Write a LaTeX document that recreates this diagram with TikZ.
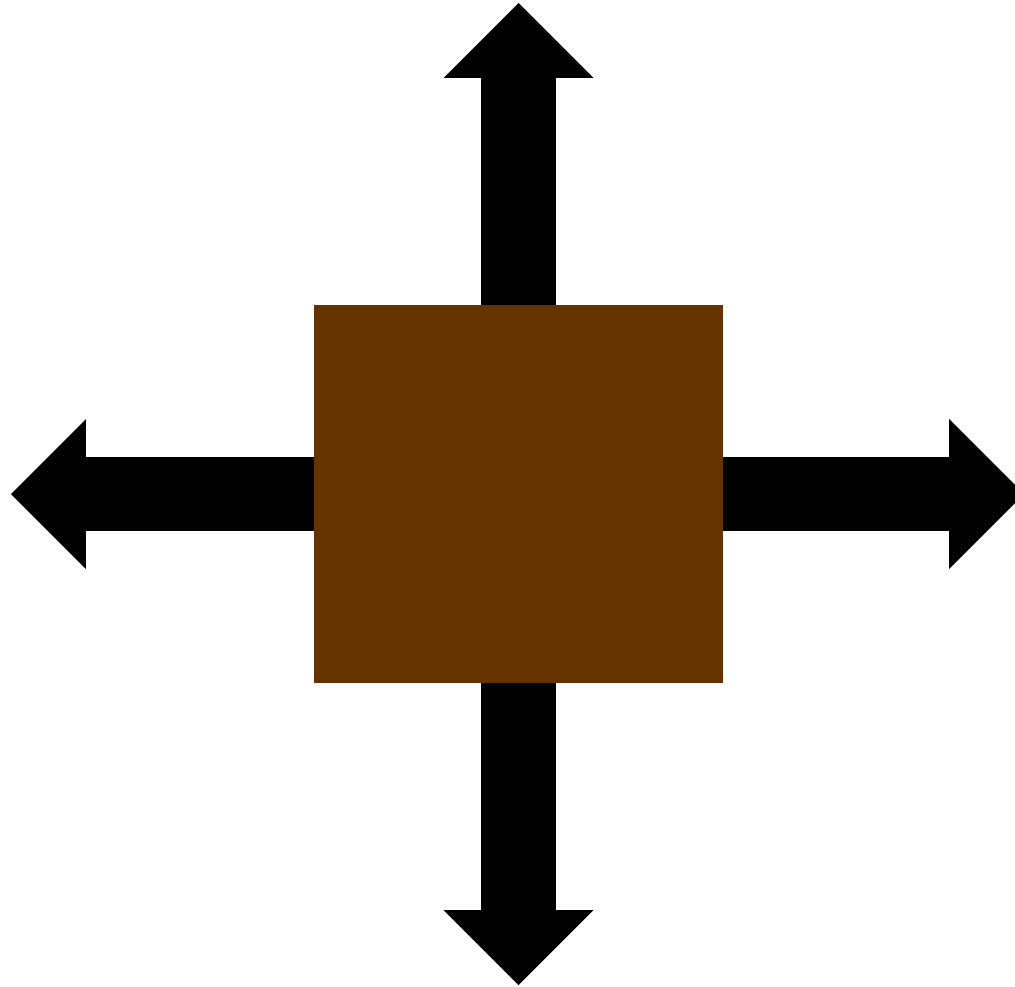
\documentclass[tikz,border=0pt]{standalone}
\usetikzlibrary{arrows.meta}
\definecolor{crate}{HTML}{663300}

\begin{document}
\begin{tikzpicture}[x=0.02cm,y=-0.02cm,
    box/.style={rectangle,fill=crate,inner sep=0pt,minimum width=8.18cm,minimum height=7.56cm},
    push/.style={-{Triangle[length=1.5cm,width=3cm,line width=0pt]},line width=1.5cm},
]
\useasboundingbox (0,0) rectangle (1015,987);
% Centre block
\node[box] (block) at (518.5,494) {};

% Arrow tips
\coordinate (up) at (518.5,3);
\coordinate (down) at (518.5,985);
\coordinate (left) at (11,494);
\coordinate (right) at (1024,494);

% Arrows
\draw[push] (block.north) -- (up);
\draw[push] (block.south) -- (down);
\draw[push] (block.west) -- (left);
\draw[push] (block.east) -- (right);
\end{tikzpicture}
\end{document}
